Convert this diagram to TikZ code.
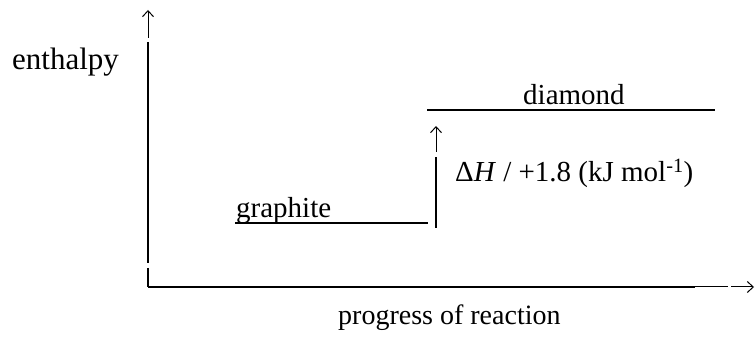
\documentclass[tikz,border=0pt]{standalone}
\usepackage{fontspec}
\setmainfont{Liberation Serif}
\usetikzlibrary{arrows.meta}
\begin{document}
\begin{tikzpicture}[x=1pt,y=1pt,
  axis/.style={line width=2pt},
  thinaxis/.style={line width=1pt},
  level/.style={line width=2pt},
  barb/.style={line width=1pt,-{Straight Barb[length=6pt,width=11pt,line width=1pt]}},
  lbl/.style={font=\fontsize{29}{33}\selectfont, inner sep=0pt, anchor=base west}]
\useasboundingbox (0,0) rectangle (755,337);
% y axis
\coordinate (ytop) at (148,295);
\coordinate (ygapa) at (148,74);
\coordinate (ygapb) at (148,69);
\coordinate (origin) at (148,50);
\coordinate (yarrs) at (148,299);
\coordinate (yarre) at (148,327);
\draw[axis] (ytop) -- (ygapa);
\draw[axis] (ygapb) -- (origin);
\draw[barb] (yarrs) -- (yarre);
% x axis
\coordinate (xthick) at (695,50);
\coordinate (xthin) at (728,50);
\coordinate (xarrs) at (731,50);
\coordinate (xarre) at (754,50);
\draw[axis] (origin) -- (xthick);
\draw[thinaxis] (xthick) -- (xthin);
\draw[barb] (xarrs) -- (xarre);
% levels
\coordinate (gl) at (235,114);
\coordinate (gr) at (428,114);
\coordinate (dl) at (427,227);
\coordinate (dr) at (715,227);
\draw[level] (gl) -- (gr);
\draw[level] (dl) -- (dr);
% delta H arrow
\coordinate (hb) at (436,109);
\coordinate (ht) at (436,180);
\coordinate (has) at (436,185);
\coordinate (hae) at (436,211);
\draw[axis] (hb) -- (ht);
\draw[barb] (has) -- (hae);
% labels
\node[lbl,font=\fontsize{31}{35}\selectfont] (enth) at (12,267) {enthalpy};
\node[lbl] (graph) at (236,119) {graphite};
\node[lbl] (diam) at (523,232) {diamond};
\node[lbl,font=\fontsize{29}{33}\selectfont] (dh) at (455,155) {Δ\textit{H} / +1.8 (kJ mol\textsuperscript{-1})};
\node[lbl,font=\fontsize{28}{32}\selectfont] (prog) at (338,12) {progress of reaction};
\end{tikzpicture}
\end{document}
